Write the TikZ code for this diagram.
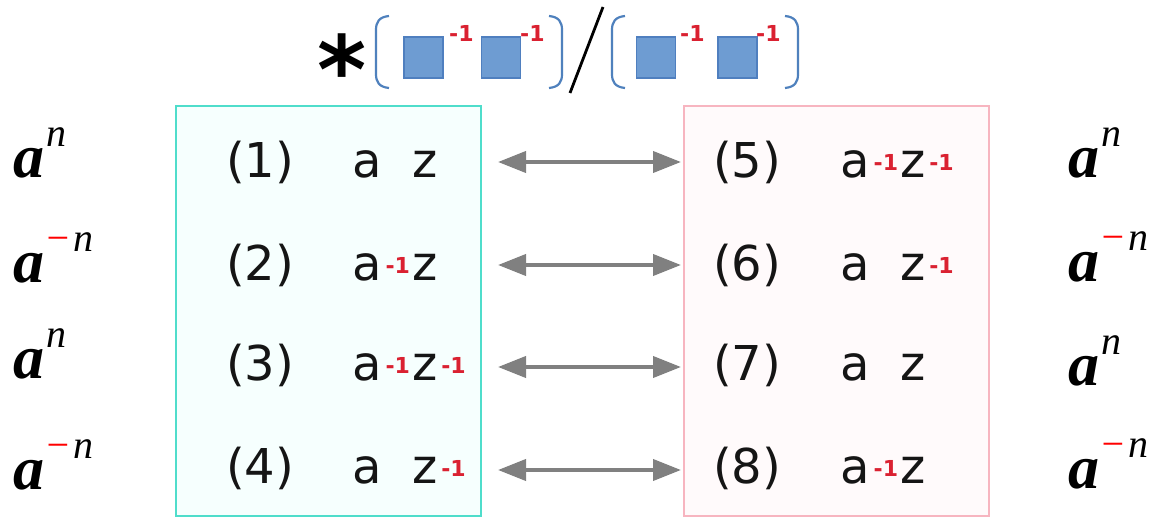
\documentclass[tikz,border=0pt]{standalone}
\usepackage{fontspec}
\setmainfont{DejaVu Sans}
\newfontfamily\serifbi{Liberation Serif}
\usetikzlibrary{arrows.meta}
\definecolor{tealbd}{HTML}{4FDDCB}
\definecolor{tealbg}{HTML}{F6FFFE}
\definecolor{pinkbd}{HTML}{F7B5C0}
\definecolor{pinkbg}{HTML}{FFFAFB}
\definecolor{supred}{HTML}{DA2131}
\definecolor{sqfill}{HTML}{6E9CD2}
\definecolor{sqdraw}{HTML}{4F7FBF}
\definecolor{brblue}{HTML}{4F81BD}
\definecolor{txt}{HTML}{151515}
\newcommand\supone{{\fontsize{22}{22}\selectfont\bfseries\color{supred}-1}}
\newcommand\rsup{\hspace{4pt}\raisebox{7pt}{\supone}\hspace{2pt}}
\newcommand\nosup{\phantom{\rsup}}
\newcommand\lblfont{\fontsize{62}{62}\selectfont\serifbi\bfseries\itshape}
\newcommand\nfont{\fontsize{40}{40}\selectfont\serifbi\itshape}
\newcommand\apos{{\lblfont a}\hspace{2pt}\raisebox{31pt}{\nfont n}}
\newcommand\aneg{{\lblfont a}\raisebox{31pt}{\nfont{\color{red}\char"2212}\hspace{2pt}n}}
\begin{document}
\begin{tikzpicture}[x=1pt,y=-1pt,
  box/.style={line width=2.5pt},
  rowtxt/.style={anchor=base west,inner sep=0pt,text=txt,font=\fontsize{48}{48}\selectfont},
  lbl/.style={anchor=base west,inner sep=0pt},
  sq/.style={draw=sqdraw,fill=sqfill,line width=1.2pt,minimum width=39pt,minimum height=41pt,inner sep=0pt},
  tsup/.style={anchor=base west,inner sep=0pt},
  brk/.style={draw=brblue,line width=2.2pt},
  arr/.style={draw=gray,line width=4pt,{Triangle[length=28pt,width=21pt]}-{Triangle[length=28pt,width=21pt]}}]
\useasboundingbox (0,0) rectangle (1159,518);
\fill[white] (0,0) rectangle (1159,518);
% boxes
\draw[box,draw=tealbd,fill=tealbg] (176,106) rectangle (481,516);
\draw[box,draw=pinkbd,fill=pinkbg] (684,106) rectangle (989,516);
% title
\node[anchor=base,inner sep=0pt,font=\fontsize{94}{94}\selectfont\bfseries] (ast) at (342,104) {*};
\draw[brk] (389,16) .. controls (379,17) and (376,22) .. (376,30) -- (376,74) .. controls (376,82) and (379,87) .. (389,88);
\draw[brk] (549,16) .. controls (559,17) and (562,22) .. (562,30) -- (562,74) .. controls (562,82) and (559,87) .. (549,88);
\draw[brk] (625,16) .. controls (615,17) and (612,22) .. (612,30) -- (612,74) .. controls (612,82) and (615,87) .. (625,88);
\draw[brk] (785,16) .. controls (795,17) and (798,22) .. (798,30) -- (798,74) .. controls (798,82) and (795,87) .. (785,88);
\draw[line width=2.8pt] (603,7) -- (570,93);
\node[sq] (sq1) at (423.5,57.5) {};
\node[sq] (sq2) at (501,57.5) {};
\node[sq] (sq3) at (656,57.5) {};
\node[sq] (sq4) at (737.5,57.5) {};
\node[tsup] (ts1) at (449,42) {\supone};
\node[tsup] (ts2) at (520,42) {\supone};
\node[tsup] (ts3) at (680,42) {\supone};
\node[tsup] (ts4) at (756,42) {\supone};
% left labels
\node[lbl] (la1) at (13,178) {\apos};
\node[lbl] (la2) at (13,283) {\aneg};
\node[lbl] (la3) at (13,378) {\apos};
\node[lbl] (la4) at (13,489) {\aneg};
% right labels
\node[lbl] (ra1) at (1068,178) {\apos};
\node[lbl] (ra2) at (1068,282) {\aneg};
\node[lbl] (ra3) at (1068,385) {\apos};
\node[lbl] (ra4) at (1068,488) {\aneg};
% left box rows
\node[rowtxt] (n1) at (226,178) {(1)};
\node[rowtxt] (n2) at (226,281) {(2)};
\node[rowtxt] (n3) at (226,381) {(3)};
\node[rowtxt] (n4) at (226,483) {(4)};
\node[rowtxt] (e1) at (352,178) {a\nosup z};
\node[rowtxt] (e2) at (352,281) {a\rsup z};
\node[rowtxt] (e3) at (352,381) {a\rsup z\rsup};
\node[rowtxt] (e4) at (352,483) {a\nosup z\rsup};
% right box rows
\node[rowtxt] (n5) at (713,178) {(5)};
\node[rowtxt] (n6) at (713,281) {(6)};
\node[rowtxt] (n7) at (713,381) {(7)};
\node[rowtxt] (n8) at (713,483) {(8)};
\node[rowtxt] (e5) at (840,178) {a\rsup z\rsup};
\node[rowtxt] (e6) at (840,281) {a\nosup z\rsup};
\node[rowtxt] (e7) at (840,381) {a\nosup z};
\node[rowtxt] (e8) at (840,483) {a\rsup z};
% arrows
\coordinate (l1) at (498,162); \coordinate (r1) at (681,162);
\coordinate (l2) at (498,265); \coordinate (r2) at (681,265);
\coordinate (l3) at (498,367); \coordinate (r3) at (681,367);
\coordinate (l4) at (498,470); \coordinate (r4) at (681,470);
\draw[arr] (l1) -- (r1);
\draw[arr] (l2) -- (r2);
\draw[arr] (l3) -- (r3);
\draw[arr] (l4) -- (r4);
\end{tikzpicture}
\end{document}
